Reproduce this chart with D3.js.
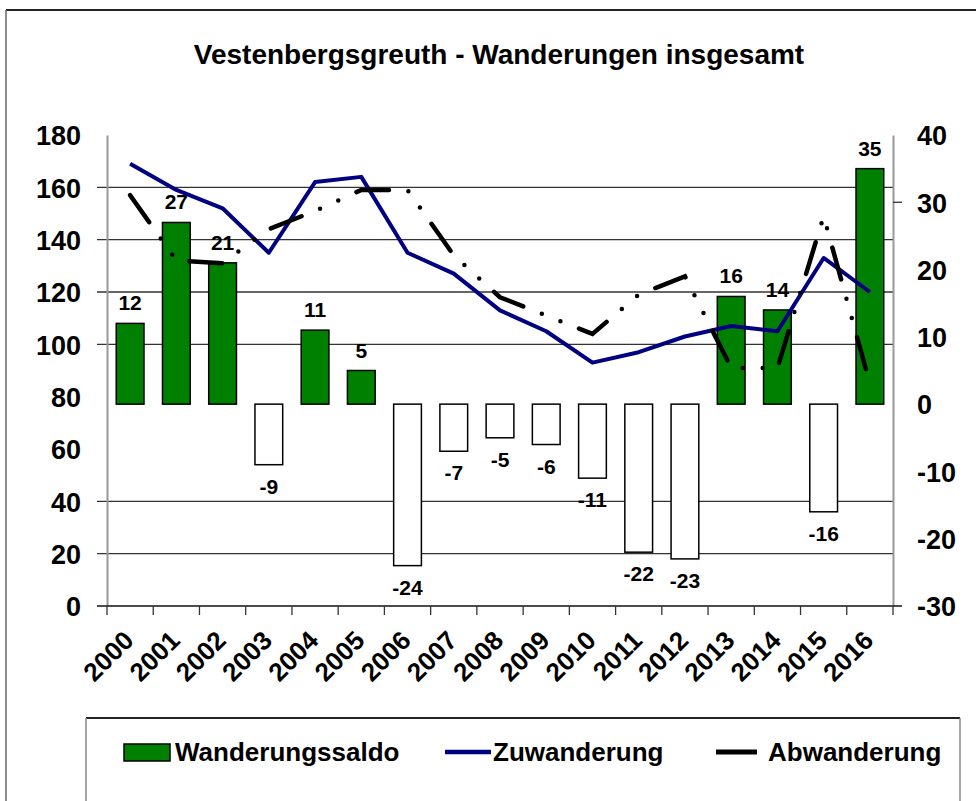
<!DOCTYPE html>
<html>
<head>
<meta charset="utf-8">
<script src="https://cdn.jsdelivr.net/npm/d3@7"></script>
<style>
  body { margin: 0; background: #fff; }
  svg { font-family: "Liberation Sans", Arial, sans-serif; font-weight: bold; }
</style>
</head>
<body>
<div id="chart"></div>
<script>
const years = ['2000','2001','2002','2003','2004','2005','2006','2007','2008',
  '2009','2010','2011','2012','2013','2014','2015','2016'];
const saldo = [12, 27, 21, -9, 11, 5, -24, -7, -5, -6, -11, -22, -23, 16, 14, -16, 35];
const zuwanderung = [169, 159, 152, 135, 162, 164, 135, 127, 113, 105, 93, 97, 103, 107, 105, 133, 120];
const abwanderung = [157, 132, 131, 144, 151, 159, 159, 134, 118, 111, 104, 119, 126, 91, 91, 149, 85];
const leftTicks = [0, 20, 40, 60, 80, 100, 120, 140, 160, 180];
const rightTicks = [-30, -20, -10, 0, 10, 20, 30, 40];
const gridValues = [20, 40, 100, 120, 140, 160];

const W = 976, H = 801;
const plot = { left: 107, right: 893, top: 135, bottom: 606 };

const svg = d3.select('#chart').append('svg')
  .attr('width', W).attr('height', H)
  .attr('viewBox', `0 0 ${W} ${H}`);

svg.append('rect').attr('width', W).attr('height', H).attr('fill', '#fff');

// outer frame (top + left edge only visible)
svg.append('line').attr('x1', 6).attr('x2', W).attr('y1', 10).attr('y2', 10)
  .attr('stroke', '#222').attr('stroke-width', 2);
svg.append('line').attr('x1', 6).attr('x2', 6).attr('y1', 10).attr('y2', H)
  .attr('stroke', '#666').attr('stroke-width', 1.5);

svg.append('text')
  .attr('x', 499).attr('y', 64)
  .attr('text-anchor', 'middle')
  .attr('font-size', 28)
  .text('Vestenbergsgreuth - Wanderungen insgesamt');

const x = d3.scaleBand().domain(years).range([plot.left, plot.right]).padding(0);
const yL = d3.scaleLinear().domain([0, 180]).range([plot.bottom, plot.top]);
const yR = d3.scaleLinear().domain([-30, 40]).range([plot.bottom, plot.top]);
const cx = d => x(d) + x.bandwidth() / 2;
const barW = x.bandwidth() * 0.6;

// gridlines (with the short outward tick on the left)
svg.append('g').selectAll('line').data(gridValues).join('line')
  .attr('x1', plot.left - 10).attr('x2', plot.right)
  .attr('y1', d => yL(d)).attr('y2', d => yL(d))
  .attr('stroke', '#333').attr('stroke-width', 1.3);

// axes
const axL = svg.append('g').attr('transform', `translate(${plot.left},0)`)
  .call(d3.axisLeft(yL).tickValues(leftTicks).tickSize(0).tickPadding(26).tickFormat(d => String(d)));
axL.select('.domain').attr('stroke', '#999').attr('stroke-width', 2);
axL.selectAll('text').attr('font-size', 27).attr('font-family', null).attr('fill', '#000').attr('dy', '0.36em');

const axR = svg.append('g').attr('transform', `translate(${plot.right},0)`)
  .call(d3.axisRight(yR).tickValues(rightTicks).tickSize(0).tickPadding(24).tickFormat(d => String(d)));
axR.select('.domain').attr('stroke', '#999').attr('stroke-width', 2);
axR.selectAll('text').attr('font-size', 27).attr('font-family', null).attr('fill', '#000').attr('dy', '0.36em');
svg.append('line').attr('x1', plot.right).attr('x2', plot.right + 9)
  .attr('y1', yR(30)).attr('y2', yR(30)).attr('stroke', '#333').attr('stroke-width', 1.3);

// category axis
svg.append('line').attr('x1', plot.left - 10).attr('x2', plot.right + 9)
  .attr('y1', plot.bottom).attr('y2', plot.bottom).attr('stroke', '#111').attr('stroke-width', 1.5);
const bounds = years.map(d => x(d)).concat([plot.right]);
svg.append('g').selectAll('line').data(bounds).join('line')
  .attr('x1', d => d).attr('x2', d => d)
  .attr('y1', plot.bottom).attr('y2', plot.bottom + 9)
  .attr('stroke', '#333').attr('stroke-width', 1.3);
svg.append('g').selectAll('text').data(years).join('text')
  .attr('transform', d => `translate(${cx(d) + 5},${plot.bottom + 36}) rotate(-45)`)
  .attr('text-anchor', 'end')
  .attr('font-size', 26)
  .text(d => d);

// Wanderungssaldo bars on the right axis
const bars = years.map((y, i) => ({ year: y, v: saldo[i] }));
svg.append('g').selectAll('rect').data(bars).join('rect')
  .attr('x', d => cx(d.year) - barW / 2)
  .attr('width', barW)
  .attr('y', d => yR(Math.max(0, d.v)))
  .attr('height', d => Math.abs(yR(d.v) - yR(0)))
  .attr('fill', d => d.v >= 0 ? '#008000' : '#fff')
  .attr('stroke', '#000').attr('stroke-width', 1.5);

svg.append('g').selectAll('text').data(bars).join('text')
  .attr('x', d => cx(d.year))
  .attr('y', d => d.v >= 0 ? yR(d.v) - 13 : yR(d.v) + 29)
  .attr('text-anchor', 'middle')
  .attr('font-size', 21)
  .text(d => String(d.v));

// lines on the left axis
const line = d3.line().x((d, i) => cx(years[i])).y(d => yL(d));
svg.append('path').datum(zuwanderung)
  .attr('d', line).attr('fill', 'none')
  .attr('stroke', '#000080').attr('stroke-width', 4).attr('stroke-linejoin', 'round');
svg.append('path').datum(abwanderung)
  .attr('d', line).attr('fill', 'none')
  .attr('stroke', '#000').attr('stroke-width', 4.5)
  .attr('stroke-linecap', 'round')
  .attr('stroke-dasharray', '33,20,0,20,0,20');

// legend
const lg = svg.append('g');
lg.append('line').attr('x1', 86).attr('x2', 960).attr('y1', 718).attr('y2', 718)
  .attr('stroke', '#222').attr('stroke-width', 2);
lg.append('line').attr('x1', 86).attr('x2', 86).attr('y1', 718).attr('y2', H)
  .attr('stroke', '#888').attr('stroke-width', 1.5);
lg.append('line').attr('x1', 960).attr('x2', 960).attr('y1', 718).attr('y2', H)
  .attr('stroke', '#888').attr('stroke-width', 1.5);
lg.append('rect').attr('x', 124).attr('y', 744).attr('width', 46).attr('height', 17)
  .attr('fill', '#008000').attr('stroke', '#000').attr('stroke-width', 1.5);
lg.append('line').attr('x1', 445).attr('x2', 491).attr('y1', 752).attr('y2', 752)
  .attr('stroke', '#000080').attr('stroke-width', 4.5);
lg.append('line').attr('x1', 716).attr('x2', 757).attr('y1', 752).attr('y2', 752)
  .attr('stroke', '#000').attr('stroke-width', 5);
const legendItems = [
  { label: 'Wanderungssaldo', x: 175 },
  { label: 'Zuwanderung', x: 493 },
  { label: 'Abwanderung', x: 768 }
];
lg.selectAll('text.item').data(legendItems).join('text')
  .attr('class', 'item')
  .attr('x', d => d.x).attr('y', 761)
  .attr('font-size', 26)
  .text(d => d.label);
</script>
</body>
</html>
